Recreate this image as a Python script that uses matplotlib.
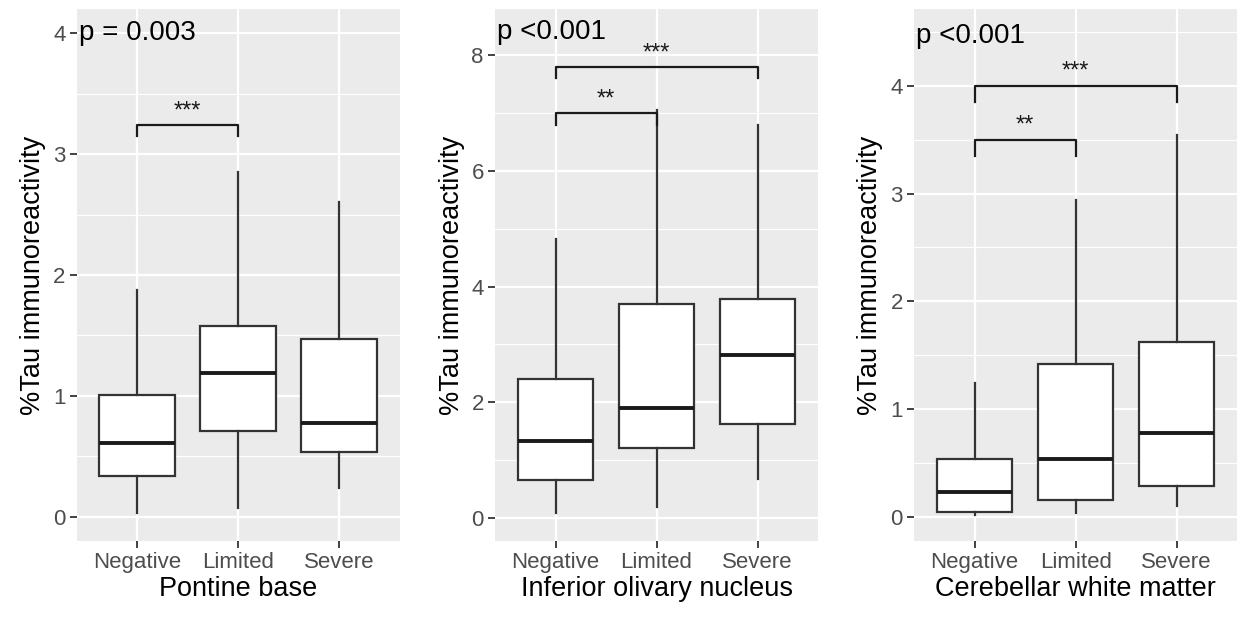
import matplotlib
matplotlib.use('Agg')
import matplotlib.pyplot as plt
from matplotlib.ticker import MultipleLocator

plt.rcParams['font.family'] = ['Liberation Sans', 'DejaVu Sans']

groups = ['Negative', 'Limited', 'Severe']
regions = ['Pontine base', 'Inferior olivary nucleus', 'Cerebellar white matter']

# per group: whisker low, q1, median, q3, whisker high
pontine = [[0.03, 0.34, 0.61, 1.01, 1.88],
           [0.07, 0.71, 1.19, 1.58, 2.85],
           [0.24, 0.54, 0.78, 1.47, 2.60]]
olivary = [[0.08, 0.66, 1.33, 2.40, 4.82],
           [0.19, 1.21, 1.90, 3.69, 7.05],
           [0.68, 1.63, 2.82, 3.78, 6.80]]
cerebellar = [[0.02, 0.05, 0.23, 0.54, 1.24],
              [0.04, 0.16, 0.54, 1.42, 2.94],
              [0.10, 0.29, 0.78, 1.62, 3.54]]

p_labels = ['p = 0.003', 'p <0.001', 'p <0.001']
p_y = [4.0, 8.4, 4.46]

# significance brackets: (group a, group b, y, tip length, label)
pontine_sig = [(1, 2, 3.24, 0.09, '***')]
olivary_sig = [(1, 2, 7.0, 0.2, '**'), (1, 3, 7.8, 0.2, '***')]
cerebellar_sig = [(1, 2, 3.5, 0.15, '**'), (1, 3, 4.0, 0.15, '***')]

ylims = [(-0.2, 4.2), (-0.4, 8.8), (-0.22, 4.71)]
ysteps = [1, 2, 1]

data = [pontine, olivary, cerebellar]
sigs = [pontine_sig, olivary_sig, cerebellar_sig]

fig = plt.figure(figsize=(12.43, 6.18), dpi=100)
lefts = [0.0617, 0.3982, 0.7353]
w = 0.26
bottom, top = 0.1246, 0.9854

edge = '#333333'
for k in range(3):
    ax = fig.add_axes([lefts[k], bottom, w, top - bottom])
    ax.set_facecolor('#EBEBEB')
    stats = []
    for g, v in zip(groups, data[k]):
        stats.append(dict(label=g, whislo=v[0], q1=v[1], med=v[2], q3=v[3], whishi=v[4]))
    ax.bxp(stats, positions=[1, 2, 3], widths=0.75, showcaps=False, showfliers=False,
           patch_artist=True,
           boxprops=dict(facecolor='white', edgecolor=edge, linewidth=1.6),
           whiskerprops=dict(color=edge, linewidth=1.6),
           medianprops=dict(color='#1a1a1a', linewidth=2.8), zorder=3)

    ax.set_xlim(0.4, 3.6)
    ax.set_ylim(*ylims[k])
    ax.yaxis.set_major_locator(MultipleLocator(ysteps[k]))
    ax.yaxis.set_minor_locator(MultipleLocator(ysteps[k] / 2))
    ax.set_xticks([1, 2, 3])
    ax.set_xticks([], minor=True)
    ax.set_xticklabels(groups)
    ax.grid(which='major', color='white', linewidth=1.6, zorder=0)
    ax.grid(which='minor', axis='y', color='white', linewidth=0.8, zorder=0)
    ax.set_axisbelow(True)
    for s in ax.spines.values():
        s.set_visible(False)
    ax.tick_params(axis='both', which='major', length=5, width=1.3, color='#333333',
                   labelcolor='#4D4D4D', labelsize=16)
    ax.tick_params(axis='x', pad=3)
    ax.tick_params(axis='y', pad=3)
    ax.tick_params(which='minor', length=0)

    ax.set_xlabel(regions[k], fontsize=19.5, color='black', labelpad=2)
    ax.set_ylabel('%Tau immunoreactivity', fontsize=19.5, color='black', labelpad=5)

    ax.text(0.42, p_y[k], p_labels[k], fontsize=20, ha='left', va='center', color='black')

    for a, b, y, tip, lab in sigs[k]:
        ax.plot([a, a, b, b], [y - tip, y, y, y - tip], color='#1a1a1a', linewidth=1.6,
                zorder=4)
        ax.text((a + b) / 2, y + tip * 0.2, lab, fontsize=17, ha='center', va='bottom',
                color='#1a1a1a')

fig.savefig('out.png', dpi=100)
